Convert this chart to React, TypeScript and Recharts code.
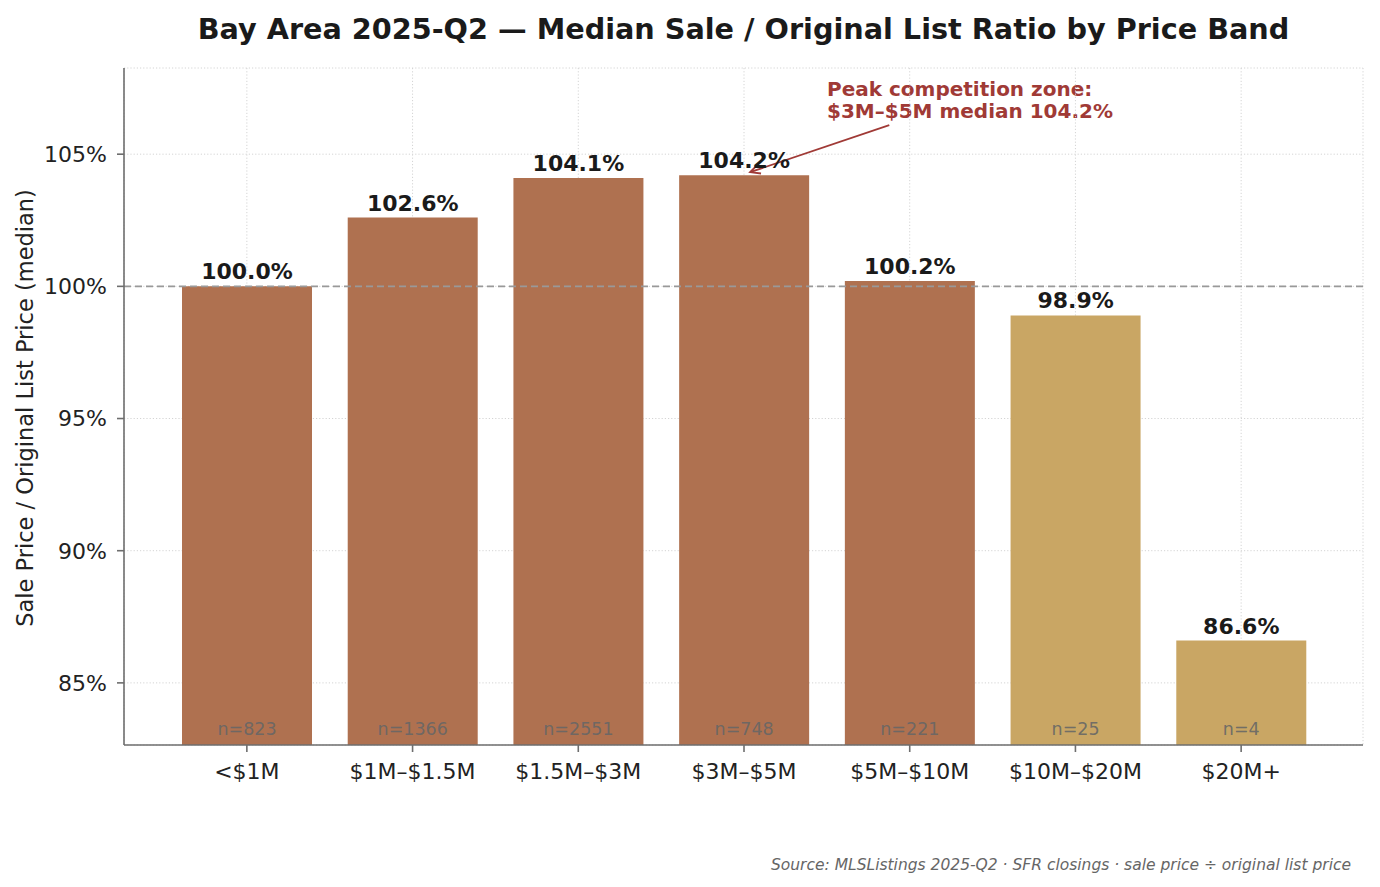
import { BarChart, Bar, Cell, XAxis, YAxis, CartesianGrid, ReferenceLine, LabelList } from 'recharts';

const FONT = '"DejaVu Sans", sans-serif';

const bands = ['<$1M', '$1M–$1.5M', '$1.5M–$3M', '$3M–$5M', '$5M–$10M', '$10M–$20M', '$20M+'];
const medianRatio = [100.0, 102.6, 104.1, 104.2, 100.2, 98.9, 86.6];
const closings = [823, 1366, 2551, 748, 221, 25, 4];
const yTicks = [85, 90, 95, 100, 105];

// bands with few closings get the muted gold
const SMALL_SAMPLE = 100;
const BROWN = '#af7150';
const GOLD = '#c9a664';
const ANNOT = '#a03a36';

// annotation arrow in (band index, ratio) space
const arrowFrom = { x: 3.88, y: 106.1 };
const arrowTo = { x: 3.04, y: 104.32 };

const data = bands.map((band, i) => ({ band, idx: i, ratio: medianRatio[i], n: closings[i] }));

function ArrowShape(props: any) {
    const { x1, y1, x2, y2 } = props;
    const ang = Math.atan2(y2 - y1, x2 - x1);
    const len = 11;
    const spread = 0.45;
    const ax = x2 - len * Math.cos(ang - spread);
    const ay = y2 - len * Math.sin(ang - spread);
    const bx = x2 - len * Math.cos(ang + spread);
    const by = y2 - len * Math.sin(ang + spread);
    return (
        <g>
            <line x1={x1} y1={y1} x2={x2} y2={y2} stroke={ANNOT} strokeWidth={1.8} />
            <path d={`M${ax},${ay} L${x2},${y2} L${bx},${by}`} fill="none" stroke={ANNOT} strokeWidth={1.8} />
        </g>
    );
}

function ValueLabel(props: any) {
    const { x, y, width, value } = props;
    return (
        <text x={x + width / 2} y={y - 7} textAnchor="middle" fontFamily={FONT} fontSize={22} fontWeight="bold" fill="#1a1a1a">
            {`${Number(value).toFixed(1)}%`}
        </text>
    );
}

function CountLabel(props: any) {
    const { x, y, width, height, value } = props;
    return (
        <text x={x + width / 2} y={y + height - 10.5} textAnchor="middle" fontFamily={FONT} fontSize={17.5} fill="#666" fillOpacity={0.9}>
            {`n=${value}`}
        </text>
    );
}

export default function App() {
    return (
        <div style={{ position: 'absolute', left: 0, top: 0, width: 1380, height: 887, background: '#fff', fontFamily: FONT }}>
            <div style={{ position: 'absolute', left: 124, width: 1239, top: 12, textAlign: 'center', fontSize: 28.7, fontWeight: 'bold', color: '#1a1a1a' }}>
                Bay Area 2025-Q2 — Median Sale / Original List Ratio by Price Band
            </div>
            <div
                style={{
                    position: 'absolute', left: 25, top: 408, fontSize: 22.5, color: '#222', whiteSpace: 'nowrap',
                    transform: 'translate(-50%, -50%) rotate(-90deg)',
                }}
            >
                Sale Price / Original List Price (median)
            </div>
            <div style={{ position: 'absolute', left: 827, top: 78, fontSize: 20, fontWeight: 'bold', color: ANNOT, lineHeight: '22px' }}>
                Peak competition zone:<br />$3M–$5M median 104.2%
            </div>
            <div style={{ position: 'absolute', right: 29, top: 856, fontSize: 15.5, fontStyle: 'italic', color: '#666' }}>
                Source: MLSListings 2025-Q2 · SFR closings · sale price ÷ original list price
            </div>
            <BarChart width={1380} height={887} data={data} margin={{ top: 68, right: 17, bottom: 102, left: 0 }} style={{ position: 'absolute', left: 0, top: 0 }}>
                <CartesianGrid stroke="#d4d4d4" strokeDasharray="1.2 2" strokeWidth={1} />
                <XAxis
                    dataKey="band"
                    height={40}
                    padding={{ left: 40, right: 39 }}
                    tickSize={7}
                    tickMargin={11}
                    tick={{ fontSize: 22, fill: '#222', fontFamily: FONT }}
                    stroke="#6e6e6e"
                    strokeWidth={1.6}
                    interval={0}
                />
                <XAxis xAxisId="num" type="number" dataKey="idx" domain={[-0.74, 6.74]} hide />
                <YAxis
                    width={124}
                    type="number"
                    domain={[82.65, 108.26]}
                    ticks={yTicks}
                    allowDataOverflow
                    tickSize={7}
                    tickMargin={10}
                    tickFormatter={(v) => `${v}%`}
                    tick={{ fontSize: 22, fill: '#222', fontFamily: FONT }}
                    stroke="#6e6e6e"
                    strokeWidth={1.6}
                />
                <Bar dataKey="ratio" barSize={130} isAnimationActive={false}>
                    {data.map((d) => (
                        <Cell key={d.band} fill={d.n < SMALL_SAMPLE ? GOLD : BROWN} />
                    ))}
                    <LabelList dataKey="ratio" content={ValueLabel} />
                    <LabelList dataKey="n" content={CountLabel} />
                </Bar>
                <ReferenceLine y={100} stroke="#999" strokeWidth={1.6} strokeDasharray="7 4" />
                <ReferenceLine
                    xAxisId="num"
                    segment={[arrowFrom, arrowTo]}
                    shape={ArrowShape}
                    ifOverflow="visible"
                />
            </BarChart>
        </div>
    );
}
